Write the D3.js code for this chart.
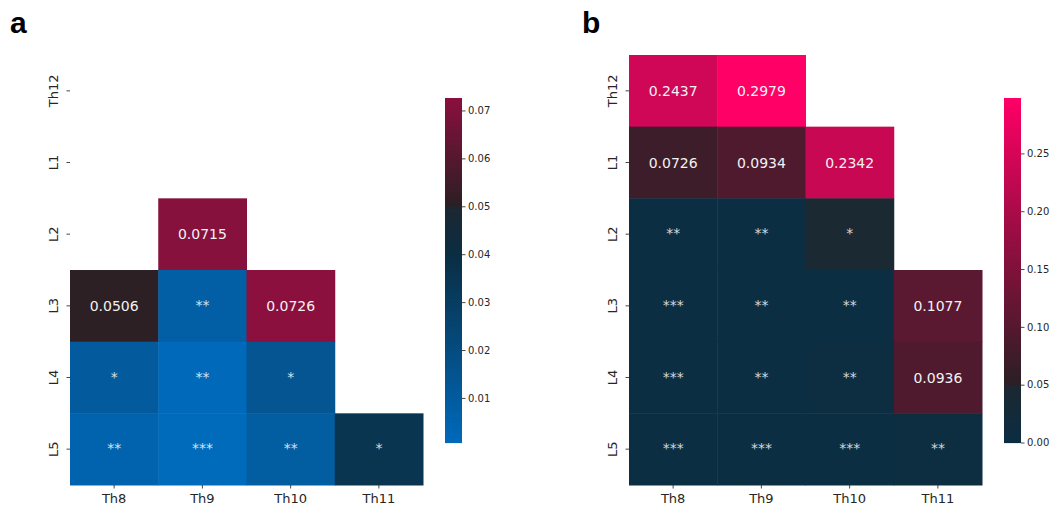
<!DOCTYPE html>
<html>
<head>
<meta charset="utf-8">
<script src="https://cdn.jsdelivr.net/npm/d3@7"></script>
<style>
  html, body { margin: 0; padding: 0; background: #fff; }
  svg { display: block; }
  text { font-family: "DejaVu Sans", sans-serif; }
</style>
</head>
<body>
<svg id="chart" width="1056" height="506"></svg>
<script>
// ---------- data ----------
const rowLabels = ["Th12", "L1", "L2", "L3", "L4", "L5"];
const colLabels = ["Th8", "Th9", "Th10", "Th11"];

// panel a (null = masked cell)
const valuesA = [
  [null,   null,   null,   null],
  [null,   null,   null,   null],
  [null,   0.0715, null,   null],
  [0.0506, 0.0078, 0.0726, null],
  [0.0110, 0.0015, 0.0145, null],
  [0.0053, 0.0007, 0.0092, 0.0355]
];
const starsA = [
  ["",   "",    "",   ""],
  ["",   "",    "",   ""],
  ["",   "",    "",   ""],
  ["",   "**",  "",   ""],
  ["*",  "**",  "*",  ""],
  ["**", "***", "**", "*"]
];
const ticksA = [0.01, 0.02, 0.03, 0.04, 0.05, 0.06, 0.07];

// panel b
const valuesB = [
  [0.2437, 0.2979, null,   null],
  [0.0726, 0.0934, 0.2342, null],
  [0.0020, 0.0030, 0.0450, null],
  [0.0004, 0.0020, 0.0030, 0.1077],
  [0.0003, 0.0040, 0.0050, 0.0936],
  [0.0002, 0.0000, 0.0005, 0.0060]
];
const starsB = [
  ["",    "",    "",    ""],
  ["",    "",    "",    ""],
  ["**",  "**",  "*",   ""],
  ["***", "**",  "**",  ""],
  ["***", "**",  "**",  ""],
  ["***", "***", "***", "**"]
];
const ticksB = [0.00, 0.05, 0.10, 0.15, 0.20, 0.25];

const centerValue = 0.05;

// ---------- colormap (blue -> dark -> pink, centred) ----------
const cmapStops = [0, 0.4, 0.4999, 0.5, 0.73, 1];
const cmapColors = ["#006abb", "#0b2e43", "#1d2831", "#2a2024", "#8b103e", "#ff0066"];
const cmap = d3.scaleLinear().domain(cmapStops).range(cmapColors)
  .interpolate(d3.interpolateRgb).clamp(true);

const svg = d3.select("#chart");

function drawPanel(opts) {
  const { values, stars, ticks, x0, x1, y0, y1, cbX, cbY0, cbY1, letter, letterX, tickFmt } = opts;
  const flat = values.flat().filter(v => v !== null);
  const vmin = d3.min(flat), vmax = d3.max(flat);
  const vrange = Math.max(vmax - centerValue, centerValue - vmin);
  // seaborn-style recentring: value -> position in cmap
  const pos = d3.scaleLinear().domain([centerValue - vrange, centerValue + vrange]).range([0, 1]);
  const color = v => cmap(pos(v));

  const x = d3.scaleBand().domain(colLabels).range([x0, x1]).padding(0);
  const y = d3.scaleBand().domain(rowLabels).range([y0, y1]).padding(0);

  const g = svg.append("g");

  const cells = [];
  values.forEach((row, i) => row.forEach((v, j) => {
    if (v !== null) cells.push({ r: rowLabels[i], c: colLabels[j], v, s: stars[i][j] });
  }));

  g.selectAll("rect.cell").data(cells).enter().append("rect")
    .attr("class", "cell")
    .attr("x", d => x(d.c))
    .attr("y", d => y(d.r))
    .attr("width", x.bandwidth() + 0.5)
    .attr("height", y.bandwidth() + 0.5)
    .attr("fill", d => color(d.v));

  const fmt = d3.format(".4f");
  g.selectAll("text.ann").data(cells).enter().append("text")
    .attr("class", "ann")
    .attr("x", d => x(d.c) + x.bandwidth() / 2)
    .attr("y", d => y(d.r) + y.bandwidth() / 2 + (d.s ? 4 : 5))
    .attr("text-anchor", "middle")
    .attr("font-size", "14px")
    .attr("fill", d => d.s ? d3.interpolateRgb("#ffffff", color(d.v))(0.18) : "#f2f2f2")
    .text(d => d.s ? d.s : fmt(d.v));

  // x axis
  const xAxis = g.append("g").attr("transform", `translate(0,${y1})`);
  colLabels.forEach(c => {
    const cx = x(c) + x.bandwidth() / 2;
    xAxis.append("line").attr("x1", cx).attr("x2", cx).attr("y1", 0).attr("y2", 3.5)
      .attr("stroke", "#333").attr("stroke-width", 0.9);
    xAxis.append("text").attr("x", cx).attr("y", 18).attr("text-anchor", "middle")
      .attr("font-size", "13px").attr("fill", "#262626").text(c);
  });
  // y axis
  rowLabels.forEach(r => {
    const cy = y(r) + y.bandwidth() / 2;
    g.append("line").attr("x1", x0 - 3.5).attr("x2", x0).attr("y1", cy).attr("y2", cy)
      .attr("stroke", "#333").attr("stroke-width", 0.9);
    g.append("text").attr("transform", `translate(${x0 - 12},${cy}) rotate(-90)`)
      .attr("text-anchor", "middle").attr("font-size", "13px").attr("fill", "#262626").text(r);
  });

  // colour bar
  const cbW = 17;
  const cbScale = d3.scaleLinear().domain([vmin, vmax]).range([cbY1, cbY0]);
  const nSteps = Math.round(cbY1 - cbY0);
  const steps = d3.range(nSteps).map(k => vmin + (vmax - vmin) * (k + 0.5) / nSteps);
  const stepH = (cbY1 - cbY0) / nSteps;
  g.selectAll("rect.cb").data(steps).enter().append("rect")
    .attr("class", "cb")
    .attr("x", cbX)
    .attr("y", d => cbScale(d) - stepH / 2)
    .attr("width", cbW)
    .attr("height", stepH + 0.6)
    .attr("fill", d => color(d));
  const cbAxis = d3.axisRight(cbScale).tickValues(ticks).tickSize(3.5).tickPadding(2.5)
    .tickFormat(d3.format(tickFmt));
  const ax = g.append("g").attr("transform", `translate(${cbX + cbW},0)`).call(cbAxis);
  ax.select(".domain").remove();
  ax.selectAll("line").attr("stroke", "#333").attr("stroke-width", 0.9);
  ax.selectAll("text").attr("font-size", "10px").attr("fill", "#262626")
    .style("font-family", "DejaVu Sans, sans-serif");

  // panel letter
  svg.append("text").attr("x", letterX).attr("y", 33)
    .attr("font-family", "Liberation Sans, Arial, sans-serif")
    .style("font-family", "Liberation Sans, Arial, sans-serif")
    .attr("font-weight", "bold").attr("font-size", "30px").attr("fill", "#000").text(letter);
}

drawPanel({
  values: valuesA, stars: starsA, ticks: ticksA,
  x0: 70, x1: 423, y0: 55, y1: 485,
  cbX: 445, cbY0: 98, cbY1: 442.5,
  letter: "a", letterX: 10, tickFmt: ".2f"
});
drawPanel({
  values: valuesB, stars: starsB, ticks: ticksB,
  x0: 629, x1: 982, y0: 55, y1: 485,
  cbX: 1004, cbY0: 98, cbY1: 442.5,
  letter: "b", letterX: 582, tickFmt: ".2f"
});
</script>
</body>
</html>
